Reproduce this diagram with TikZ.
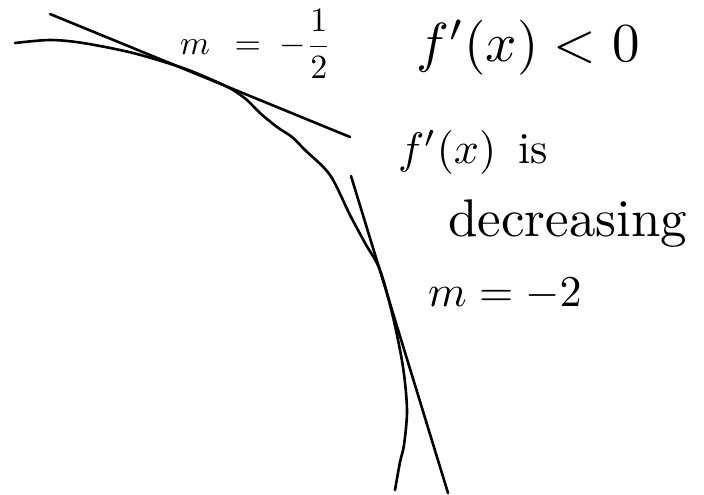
\documentclass[tikz,border=0pt]{standalone}
\usepackage{amsmath}
\usepackage{graphicx}
\begin{document}
\begin{tikzpicture}[x=1pt,y=-1pt,
  ink/.style={line width=2.6pt,line cap=round,line join=round,black},
  hand/.style={inner sep=0pt,anchor=west,black}]
\useasboundingbox[fill=white] (0,0) rectangle (704,495);
% curve
\draw[ink] plot[smooth,tension=0.5] coordinates {
  (15,43) (50,40) (83,43) (133,53) (183,68) (217,82) (233,90) (247,100)
  (260,113) (277,127) (292,137) (305,150) (330,175) (350,215) (365,243)
  (380,270) (393,317) (403,367) (407,410) (404,445) (400,462) (395,490)};
% tangent lines
\coordinate (t1a) at (50,14);
\coordinate (t1b) at (350,137);
\coordinate (t2a) at (351,176);
\coordinate (t2b) at (448,493);
\draw[ink] (t1a) -- (t1b);
\draw[ink] (t2a) -- (t2b);
% labels
\node[hand] (m1) at (180,44) {\scalebox{3.4}{$m\;\,=\;-\dfrac{1}{2}$}};
\node[hand] (fp) at (416,48) {\scalebox{5.5}{$f'(x) < 0$}};
\node[hand] (fis) at (398,152) {\scalebox{4.4}{$f'(x)$\enspace is}};
\node[hand] (dec) at (448,224) {\scalebox{5.3}{decreasing}};
\node[hand] (m2) at (428,294) {\scalebox{4.4}{$m = -2$}};
\end{tikzpicture}
\end{document}
